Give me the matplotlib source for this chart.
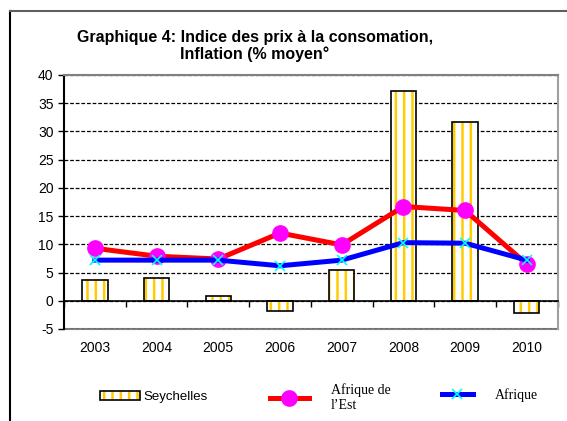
import numpy as np
import matplotlib
matplotlib.use("Agg")
import matplotlib.pyplot as plt
from matplotlib.patches import Patch
from matplotlib.lines import Line2D

years = ["2003", "2004", "2005", "2006", "2007", "2008", "2009", "2010"]
seychelles = [3.7, 4.1, 0.8, -1.8, 5.4, 37.1, 31.7, -2.2]
afrique_est = [9.3, 7.9, 7.4, 12.0, 9.9, 16.7, 16.0, 6.5]
afrique = [7.2, 7.2, 7.2, 6.2, 7.2, 10.3, 10.2, 7.2]

plt.rcParams['font.family'] = ['Liberation Sans', 'DejaVu Sans']
plt.rcParams['hatch.linewidth'] = 1.8
plt.rcParams['axes.unicode_minus'] = False

gold = "#FFCC00"

fig = plt.figure(figsize=(5.67, 4.21), dpi=100)
ax = fig.add_axes([64 / 567, 1 - 329 / 421, (557.7 - 64) / 567, (329 - 75) / 421])

x = np.arange(len(years))

# bars: yellow hatching first, then black outline on top
ax.bar(x, seychelles, width=0.41, color="white", edgecolor=gold, hatch="||", linewidth=0, zorder=2)
ax.bar(x, seychelles, width=0.41, fill=False, edgecolor="black", linewidth=1.2, zorder=3)

ax.plot(x, afrique_est, color="#FF0000", lw=3.6, marker="o", ms=11,
        mfc="#FF00FF", mec="#FF00FF", zorder=4, clip_on=False)
ax.plot(x, afrique, color="#0000FF", lw=3.6, marker="x", ms=7, mew=1.2,
        mec="#00FFFF", zorder=5, clip_on=False)

ax.set_xlim(-0.5, len(years) - 0.5)
ax.set_ylim(-5, 40)
ax.set_yticks(np.arange(-5, 41, 5))
ax.tick_params(axis="y", labelsize=10, length=4, width=1, direction="out")
ax.yaxis.grid(True, color="black", linestyle=(0, (3, 1.5)), linewidth=0.9)
ax.set_axisbelow(True)

# category axis sits on zero, with ticks at the category boundaries
ax.spines["bottom"].set_position(("data", 0))
ax.spines["bottom"].set_linewidth(1.2)
ax.set_xticks(np.arange(len(years) + 1) - 0.5)
ax.tick_params(axis="x", length=4, width=1, direction="out", labelbottom=False)
ax.spines["left"].set_linewidth(1.5)
ax.spines["top"].set_color("#808080")
ax.spines["top"].set_linestyle((0, (3, 1)))
ax.spines["top"].set_linewidth(1.5)
ax.spines["right"].set_color("#A0A0A0")
ax.spines["right"].set_linewidth(1.5)

sec = ax.secondary_xaxis("bottom")
sec.set_xticks(x)
sec.set_xticklabels(years)
sec.tick_params(length=0, labelsize=10, pad=9)
sec.spines["bottom"].set_color("#808080")
sec.spines["bottom"].set_linestyle((0, (3, 1)))
sec.spines["bottom"].set_linewidth(1.5)

fig.text(255 / 567, 1 - 46 / 421, "Graphique 4: Indice des prix à la consomation,\nInflation (% moyen°",
         ha="center", va="center", fontsize=11.5, fontweight="bold", linespacing=1.05)

# outer frame (cropped on the right and bottom)
fig.add_artist(Line2D([10 / 567, 10 / 567], [0, 1 - 11 / 421], color="black", lw=1.5))
fig.add_artist(Line2D([10 / 567, 1], [1 - 11 / 421, 1 - 11 / 421], color="#606060", lw=1.5))

h1 = (Patch(facecolor="white", edgecolor=gold, hatch="||", linewidth=0),
      Patch(fill=False, edgecolor="black", linewidth=1.2))
h2 = Line2D([], [], color="#FF0000", lw=3.6, marker="o", ms=11, mfc="#FF00FF", mec="#FF00FF")
h3 = Line2D([], [], color="#0000FF", lw=3.6, marker="x", ms=7, mew=1.2, mec="#00FFFF")

leg1 = fig.legend([h1], ["Seychelles"], loc="center left", bbox_to_anchor=(100 / 567, 1 - 397 / 421),
                  frameon=False, borderpad=0, borderaxespad=0, handlelength=3.0, handleheight=0.6,
                  handletextpad=0.3, fontsize=9.5)
leg2 = fig.legend([h2], ["Afrique de\nl’Est"], loc="center left", bbox_to_anchor=(270 / 567, 1 - 398 / 421),
                  frameon=False, borderpad=0, borderaxespad=0, handlelength=2.8,
                  handletextpad=1.6, prop={"family": "Liberation Serif", "size": 10})
leg3 = fig.legend([h3], ["Afrique"], loc="center left", bbox_to_anchor=(442 / 567, 1 - 395 / 421),
                  frameon=False, borderpad=0, borderaxespad=0, handlelength=2.2,
                  handletextpad=1.6, prop={"family": "Liberation Serif", "size": 10})

fig.savefig("out.png", dpi=100)
